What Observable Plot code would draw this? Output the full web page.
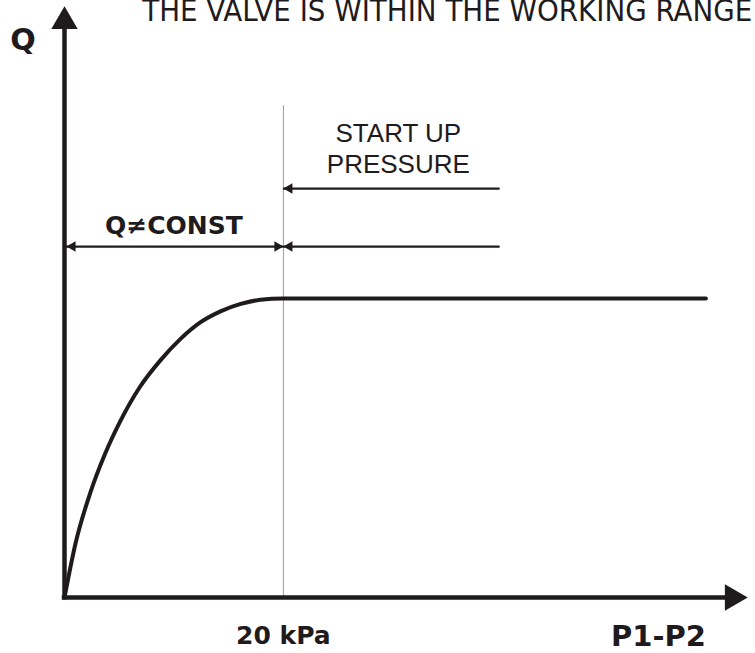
<!DOCTYPE html>
<html>
<head>
<meta charset="utf-8">
<script src="https://cdn.jsdelivr.net/npm/d3@7"></script>
<script src="https://cdn.jsdelivr.net/npm/@observablehq/plot@0.6"></script>
<style>
  html, body { margin: 0; padding: 0; background: #fff; overflow: hidden; }
  svg { display: block; }
</style>
</head>
<body>
<div id="chart"></div>
<script>
// ---- data (pressure difference in kPa, flow normalised to the plateau) ----
const pressure = [0, 1, 2.4, 3.7, 5.1, 6.9, 8.8, 10.6, 12.4, 14.3, 16.1, 17.9, 20, 58.6];
const flow     = [0, 0.18, 0.355, 0.48, 0.59, 0.705, 0.795, 0.865, 0.92, 0.958, 0.982, 0.996, 1, 1];

const tickPressure = 20;          // start-up pressure
const xEnd = 62.4;                // end of the P1-P2 axis
const yEnd = 1.977;               // end of the Q axis
const guideTop = 1.645;           // top of the thin guide line
const bandLevel = 1.174;          // Q≠CONST dimension line
const startupLevel = 1.368;       // upper start-up arrow
const arrowReach = 39.8;          // right end of the start-up arrows

const title = "THE VALVE IS WITHIN THE WORKING RANGE";
const yLabel = "Q";
const xLabel = "P1-P2";
const tickLabel = "20 kPa";
const bandLabel = "Q≠CONST";
const startupLabel = "START UP\nPRESSURE";

const curve = pressure.map((p, i) => ({p, q: flow[i]}));
const ink = "#1f1b1c";
const bold = "'DejaVu Sans', Verdana, sans-serif";
const plain = "'Liberation Sans', Arial, sans-serif";

const chart = Plot.plot({
  width: 755,
  height: 653,
  marginLeft: 64,
  marginRight: 8,
  marginTop: 6,
  marginBottom: 56,
  x: {domain: [0, xEnd], axis: null},
  y: {domain: [0, yEnd], axis: null},
  style: {background: "#fff"},
  marks: [
    // thin guide at start-up pressure
    Plot.ruleX([tickPressure], {y1: 0, y2: guideTop, stroke: "#9c9c9c", strokeWidth: 1}),
    // dimension lines
    Plot.ruleY([bandLevel], {x1: 0, x2: tickPressure, stroke: ink, strokeWidth: 2.2}),
    Plot.ruleY([startupLevel, bandLevel], {x1: tickPressure, x2: arrowReach, stroke: ink, strokeWidth: 2.2}),
    Plot.dot([bandLevel], {x: 0, y: d => d, symbol: "triangle", r: 3.9, rotate: -90, fill: ink, stroke: "none", dx: 8}),
    Plot.dot([bandLevel], {x: tickPressure, y: d => d, symbol: "triangle", r: 3.9, rotate: 90, fill: ink, stroke: "none", dx: -6}),
    Plot.dot([startupLevel, bandLevel], {x: tickPressure, y: d => d, symbol: "triangle", r: 3.9, rotate: -90, fill: ink, stroke: "none", dx: 6}),
    // flow curve
    Plot.line(curve, {x: "p", y: "q", curve: "monotone-x", stroke: ink, strokeWidth: 4}),
    // axes
    Plot.ruleX([0], {y1: 0, y2: yEnd * 0.96, stroke: ink, strokeWidth: 4.5, strokeLinecap: "square"}),
    Plot.ruleY([0], {x1: 0, x2: xEnd * 0.97, stroke: ink, strokeWidth: 4.5, strokeLinecap: "square"}),
    Plot.dot([yEnd], {x: 0, y: d => d, symbol: "triangle", r: 9.8, fill: ink, stroke: "none", dy: 15}),
    Plot.dot([xEnd], {x: d => d, y: 0, symbol: "triangle", r: 9.8, rotate: 90, fill: ink, stroke: "none", dx: -15}),
    // texts
    Plot.text([title], {x: 7.1, y: yEnd, text: d => d, textAnchor: "start", fontFamily: "'Liberation Sans Narrow', 'DejaVu Sans Condensed', 'Liberation Sans', sans-serif", fontSize: 30, fill: ink, dy: 5}),
    Plot.text([yLabel], {x: 0, y: yEnd, text: d => d, textAnchor: "middle", fontFamily: bold, fontWeight: "bold", fontSize: 30, fill: ink, dx: -41.5, dy: 33.5}),
    Plot.text([bandLabel], {x: tickPressure / 2, y: bandLevel, text: d => d, textAnchor: "middle", fontFamily: bold, fontWeight: "bold", fontSize: 25, fill: ink, dy: -21}),
    Plot.text([startupLabel], {x: (tickPressure + arrowReach) / 2 + 0.6, y: startupLevel, text: d => d, textAnchor: "middle", fontFamily: plain, fontSize: 26, lineHeight: 1.23, fill: ink, dy: -41.3}),
    Plot.text([tickLabel], {x: tickPressure, y: 0, text: d => d, textAnchor: "middle", fontFamily: bold, fontWeight: "bold", fontSize: 25, fill: ink, dy: 38}),
    Plot.text([xLabel], {x: pressure[pressure.length - 1], y: 0, text: d => d, textAnchor: "end", fontFamily: bold, fontWeight: "bold", fontSize: 29, fill: ink, dy: 39})
  ]
});

document.getElementById("chart").appendChild(chart);

// stretch the clipped headline to its width in the reference
d3.select(chart).selectAll("text").filter(function () { return this.textContent === title; })
  .attr("textLength", 610).attr("lengthAdjust", "spacingAndGlyphs");
</script>
</body>
</html>
